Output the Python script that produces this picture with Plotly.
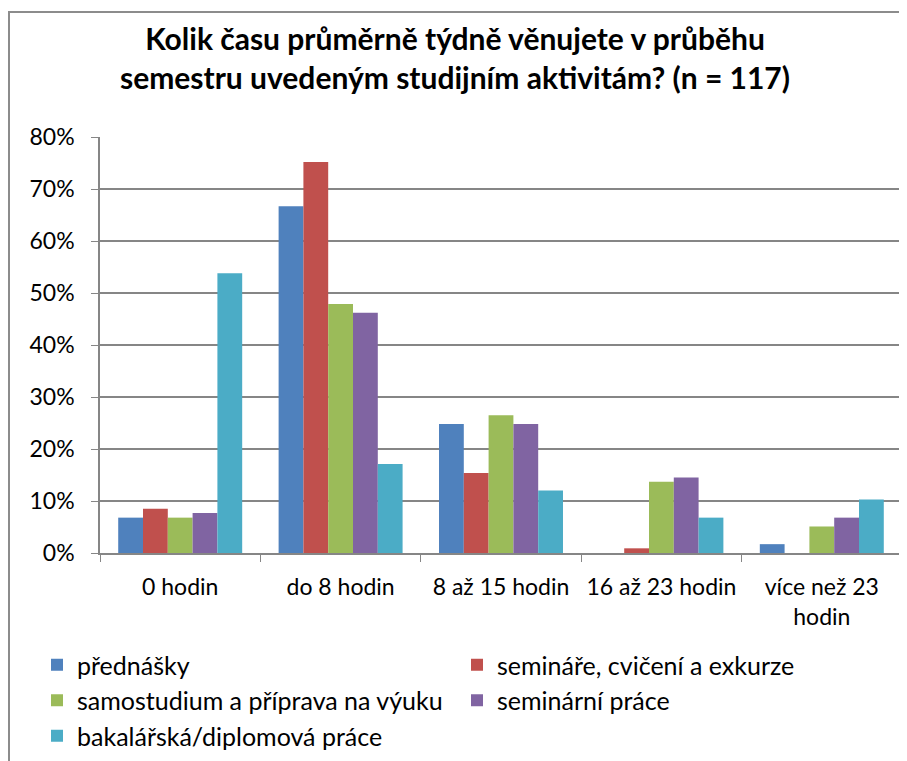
import plotly.graph_objects as go

categories = ["0 hodin", "do 8 hodin", "8 až 15 hodin", "16 až 23 hodin", "více než 23<br>hodin"]
series_names = ["přednášky", "semináře, cvičení a exkurze", "samostudium a příprava na výuku",
                "seminární práce", "bakalářská/diplomová práce"]
prednasky = [0.068, 0.667, 0.248, 0.0, 0.017]
seminare = [0.085, 0.752, 0.154, 0.009, 0.0]
samostudium = [0.068, 0.479, 0.265, 0.137, 0.051]
seminarni_prace = [0.077, 0.462, 0.248, 0.145, 0.068]
bakalarska = [0.538, 0.171, 0.120, 0.068, 0.103]
colors = ["#4F81BD", "#C0504D", "#9BBB59", "#8064A2", "#4BACC6"]
legend_ids = ["legend", "legend2", "legend", "legend2", "legend"]

values = [prednasky, seminare, samostudium, seminarni_prace, bakalarska]
FONT = "Lato, 'Open Sans', sans-serif"

fig = go.Figure()
for i, (name, vals, col, lg) in enumerate(zip(series_names, values, colors, legend_ids)):
    fig.add_trace(go.Bar(x=categories, y=vals, name=name, legend=lg,
                         marker=dict(color=col, line=dict(width=0))))

W, H = 907, 761
OFF = 8  # page offset of the figure (browser body margin)
# plot area in page pixels: x 100..902, y 137..553
L, R, T, B = 100 - OFF, W - (902 - OFF), 137 - OFF, H - (553 - OFF)
pw = W - L - R
ph = H - T - B

def px2x(px):
    return (px - OFF - L) / pw

def py2y(py):
    return (H - B - (py - OFF)) / ph

leg_font = dict(family=FONT, size=25, color="black")

fig.update_layout(
    width=W, height=H,
    margin=dict(l=L, r=R, t=T, b=B, autoexpand=False),
    paper_bgcolor="white", plot_bgcolor="white",
    barmode="group", bargap=0.227, bargroupgap=0,
    font=dict(family=FONT, size=23, color="black"),
    title=dict(text="<b>Kolik času průměrně týdně věnujete v průběhu<br>semestru uvedeným studijním aktivitám? (n = 117)</b>",
               x=(455 - OFF) / W, xanchor="center", xref="container",
               y=1 - 42 / H, yanchor="top", yref="container",
               font=dict(family=FONT, size=30, color="black")),
    legend=dict(orientation="v", xref="container", yref="container",
                x=29 / W, xanchor="left", y=1 - 634 / H, yanchor="top",
                font=leg_font, traceorder="normal"),
    legend2=dict(orientation="v", xref="container", yref="container",
                 x=449 / W, xanchor="left", y=1 - 634 / H, yanchor="top",
                 font=leg_font, traceorder="normal"),
    xaxis=dict(showline=True, linecolor="#868686", linewidth=1.5,
               ticks="outside", ticklen=7, tickcolor="#868686",
               tickson="boundaries", showgrid=False, ticklabelstandoff=13,
               tickfont=dict(family=FONT, size=23, color="black")),
    yaxis=dict(range=[0, 0.8], dtick=0.1, tickformat=".0%",
               showline=True, linecolor="#868686", linewidth=1.5,
               ticks="outside", ticklen=7, tickcolor="#868686",
               showgrid=True, gridcolor="#868686", gridwidth=1.5,
               zeroline=False, ticklabelstandoff=12,
               tickfont=dict(family=FONT, size=23, color="black")),
)

# chart frame (left and top edges)
fig.add_shape(type="line", xref="paper", yref="paper",
              x0=px2x(9), x1=px2x(9), y0=py2y(12), y1=py2y(780),
              line=dict(color="#8c8c8c", width=2))
fig.add_shape(type="line", xref="paper", yref="paper",
              x0=px2x(8), x1=px2x(925), y0=py2y(12), y1=py2y(12),
              line=dict(color="#8c8c8c", width=2))

fig.write_html("out.html")
